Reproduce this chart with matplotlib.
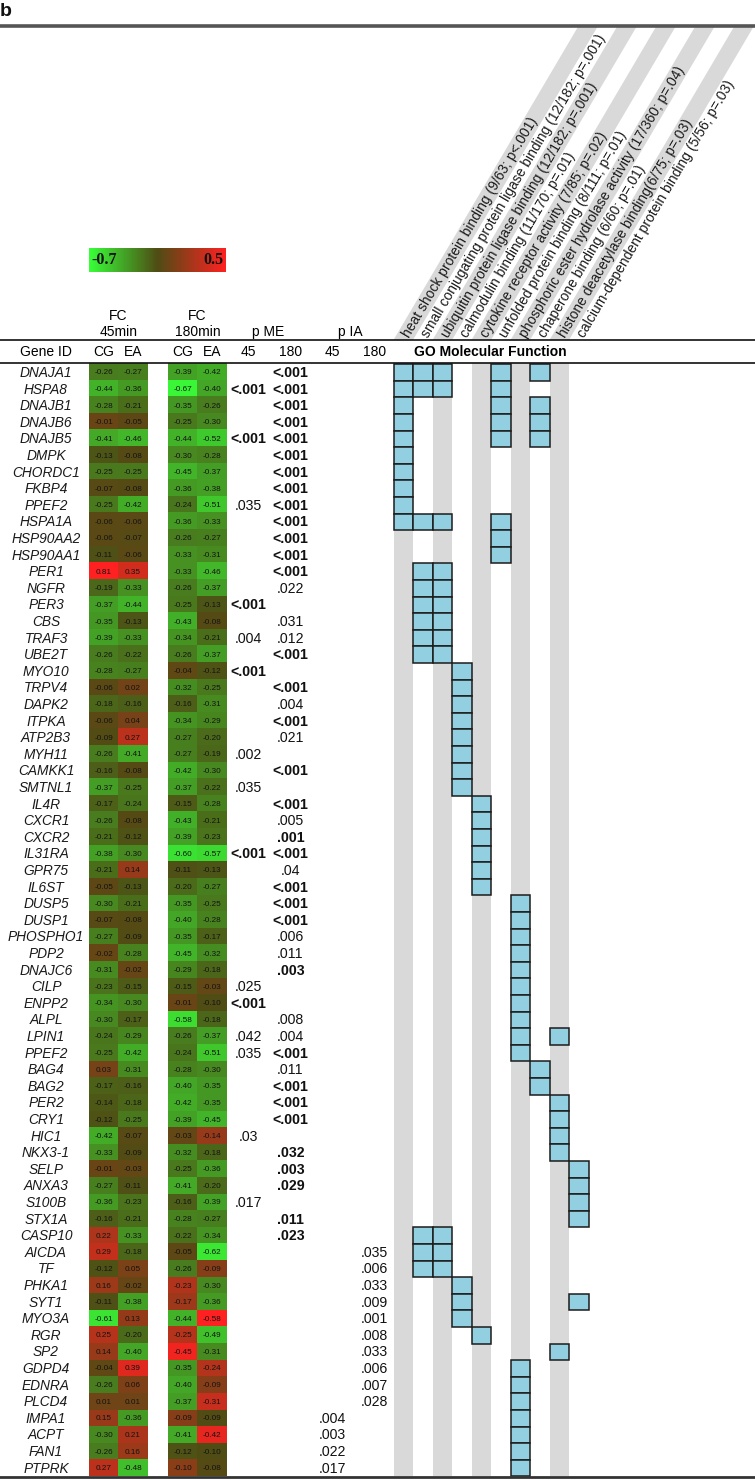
import numpy as np
import matplotlib
matplotlib.use("Agg")
import matplotlib.pyplot as plt
from matplotlib.colors import LinearSegmentedColormap
from matplotlib.patches import Rectangle, Polygon

# ---------------- data ----------------
genes = ["DNAJA1", "HSPA8", "DNAJB1", "DNAJB6", "DNAJB5", "DMPK", "CHORDC1", "FKBP4",
         "PPEF2", "HSPA1A", "HSP90AA2", "HSP90AA1", "PER1", "NGFR", "PER3", "CBS",
         "TRAF3", "UBE2T", "MYO10", "TRPV4", "DAPK2", "ITPKA", "ATP2B3", "MYH11",
         "CAMKK1", "SMTNL1", "IL4R", "CXCR1", "CXCR2", "IL31RA", "GPR75", "IL6ST",
         "DUSP5", "DUSP1", "PHOSPHO1", "PDP2", "DNAJC6", "CILP", "ENPP2", "ALPL",
         "LPIN1", "PPEF2", "BAG4", "BAG2", "PER2", "CRY1", "HIC1", "NKX3-1", "SELP",
         "ANXA3", "S100B", "STX1A", "CASP10", "AICDA", "TF", "PHKA1", "SYT1", "MYO3A",
         "RGR", "SP2", "GDPD4", "EDNRA", "PLCD4", "IMPA1", "ACPT", "FAN1", "PTPRK"]

fc_cg_45 = [-0.26, -0.44, -0.28, -0.01, -0.41, -0.13, -0.25, -0.07, -0.25, -0.06, -0.06, -0.11,
            0.81, -0.19, -0.37, -0.35, -0.39, -0.26, -0.28, -0.06, -0.18, -0.06, -0.09, -0.26,
            -0.16, -0.37, -0.17, -0.26, -0.21, -0.38, -0.21, -0.05, -0.30, -0.07, -0.27, -0.02,
            -0.31, -0.23, -0.34, -0.30, -0.24, -0.25, 0.03, -0.17, -0.14, -0.12, -0.42, -0.33,
            -0.01, -0.27, -0.36, -0.16, 0.22, 0.29, -0.12, 0.16, -0.11, -0.61, 0.25, 0.14,
            -0.04, -0.26, 0.01, 0.15, -0.30, -0.26, 0.27]
fc_ea_45 = [-0.27, -0.36, -0.21, -0.05, -0.46, -0.08, -0.25, -0.08, -0.42, -0.06, -0.07, -0.06,
            0.35, -0.33, -0.44, -0.13, -0.33, -0.22, -0.27, 0.02, -0.16, 0.04, 0.27, -0.41,
            -0.08, -0.25, -0.24, -0.08, -0.12, -0.30, 0.14, -0.13, -0.21, -0.08, -0.09, -0.28,
            -0.02, -0.15, -0.30, -0.17, -0.29, -0.42, -0.31, -0.16, -0.18, -0.25, -0.07, -0.09,
            -0.03, -0.11, -0.23, -0.21, -0.33, -0.18, 0.05, -0.02, -0.38, 0.13, -0.20, -0.40,
            0.39, 0.06, 0.01, -0.36, 0.21, 0.16, -0.48]
fc_cg_180 = [-0.39, -0.67, -0.35, -0.25, -0.44, -0.30, -0.45, -0.36, -0.24, -0.36, -0.26, -0.33,
             -0.33, -0.26, -0.25, -0.43, -0.34, -0.26, -0.04, -0.32, -0.16, -0.34, -0.27, -0.27,
             -0.42, -0.37, -0.15, -0.43, -0.39, -0.60, -0.11, -0.20, -0.35, -0.40, -0.35, -0.45,
             -0.29, -0.15, -0.01, -0.58, -0.26, -0.24, -0.28, -0.40, -0.42, -0.39, -0.03, -0.32,
             -0.25, -0.41, -0.16, -0.28, -0.22, -0.05, -0.26, -0.23, -0.17, -0.44, -0.25, -0.45,
             -0.35, -0.40, -0.37, -0.09, -0.41, -0.12, -0.10]
fc_ea_180 = [-0.42, -0.40, -0.26, -0.30, -0.52, -0.28, -0.37, -0.38, -0.51, -0.33, -0.27, -0.31,
             -0.46, -0.37, -0.13, -0.08, -0.21, -0.37, -0.12, -0.25, -0.31, -0.29, -0.20, -0.19,
             -0.30, -0.22, -0.28, -0.21, -0.23, -0.57, -0.13, -0.27, -0.25, -0.28, -0.17, -0.32,
             -0.18, -0.03, -0.10, -0.18, -0.37, -0.51, -0.30, -0.35, -0.35, -0.45, -0.14, -0.18,
             -0.36, -0.20, -0.39, -0.27, -0.34, -0.62, -0.09, -0.30, -0.36, -0.58, -0.49, -0.31,
             -0.24, -0.09, -0.31, -0.09, -0.42, -0.10, -0.08]

# cells (row, column) whose colour in the figure follows the opposite sign of the printed value
colour_flipped = [(46, 3), (54, 3), (55, 2), (56, 2), (57, 3), (58, 2), (59, 2), (60, 3),
                  (61, 3), (62, 3), (63, 2), (64, 3), (66, 2)]

# p-values: row -> (text, bold)
p_me_45 = {1: ("<.001", True), 4: ("<.001", True), 8: (".035", False), 14: ("<.001", True),
           16: (".004", False), 18: ("<.001", True), 23: (".002", False), 25: (".035", False),
           29: ("<.001", True), 37: (".025", False), 38: ("<.001", True), 40: (".042", False),
           41: (".035", False), 46: (".03", False), 50: (".017", False)}
p_me_180 = {0: ("<.001", True), 1: ("<.001", True), 2: ("<.001", True), 3: ("<.001", True),
            4: ("<.001", True), 5: ("<.001", True), 6: ("<.001", True), 7: ("<.001", True),
            8: ("<.001", True), 9: ("<.001", True), 10: ("<.001", True), 11: ("<.001", True),
            12: ("<.001", True), 13: (".022", False), 15: (".031", False), 16: (".012", False),
            17: ("<.001", True), 19: ("<.001", True), 20: (".004", False), 21: ("<.001", True),
            22: (".021", False), 24: ("<.001", True), 26: ("<.001", True), 27: (".005", False),
            28: (".001", True), 29: ("<.001", True), 30: (".04", False), 31: ("<.001", True),
            32: ("<.001", True), 33: ("<.001", True), 34: (".006", False), 35: (".011", False),
            36: (".003", True), 39: (".008", False), 40: (".004", False), 41: ("<.001", True),
            42: (".011", False), 43: ("<.001", True), 44: ("<.001", True), 45: ("<.001", True),
            47: (".032", True), 48: (".003", True), 49: (".029", True), 51: (".011", True),
            52: (".023", True)}
p_ia_45 = {63: (".004", False), 64: (".003", False), 65: (".022", False), 66: (".017", False)}
p_ia_180 = {53: (".035", False), 54: (".006", False), 55: (".033", False), 56: (".009", False),
            57: (".001", False), 58: (".008", False), 59: (".033", False), 60: (".006", False),
            61: (".007", False), 62: (".028", False)}

go_terms = ["heat shock protein binding (9/63; p<.001)",
            "small conjugating protein ligase binding (12/182; p=.001)",
            "ubiquitin protein ligase binding (12/182; p=.001)",
            "calmodulin binding (11/170; p=.01)",
            "cytokine receptor activity (7/85; p=.02)",
            "unfolded protein binding (8/111; p=.01)",
            "phosphoric ester hydrolase activity (17/360; p=.04)",
            "chaperone binding (6/60; p=.01)",
            "histone deacetylase binding(6/75; p=.03)",
            "calcium-dependent protein binding (5/56; p=.03)"]
go_members = [
    [0, 1, 2, 3, 4, 5, 6, 7, 8, 9],
    [0, 1, 9, 12, 13, 14, 15, 16, 17, 52, 53, 54],
    [0, 1, 9, 12, 13, 14, 15, 16, 17, 52, 53, 54],
    [18, 19, 20, 21, 22, 23, 24, 25, 55, 56, 57],
    [26, 27, 28, 29, 30, 31, 58],
    [0, 1, 2, 3, 4, 9, 10, 11],
    [32, 33, 34, 35, 36, 37, 38, 39, 40, 41, 60, 61, 62, 63, 64, 65, 66],
    [0, 2, 3, 4, 42, 43],
    [40, 44, 45, 46, 47, 59],
    [48, 49, 50, 51, 56],
]

colorbar_range = (-0.7, 0.5)

# ---------------- layout ----------------
W, H = 755, 1480
fig = plt.figure(figsize=(W / 100, H / 100), dpi=100)
ax = fig.add_axes([0, 0, 1, 1])
ax.set_xlim(0, W)
ax.set_ylim(H, 0)
ax.axis("off")

SANS = ["Liberation Sans", "DejaVu Sans"]
SERIF = ["Liberation Serif", "DejaVu Serif"]

n = len(genes)
row_top = 364.2
row_h = 16.6
row_c = lambda i: row_top + (i + 0.5) * row_h
bottom = row_top + n * row_h

cmap = LinearSegmentedColormap.from_list(
    "gbr", [(0.0, (0.22, 1.00, 0.22)), (0.5, (0.31, 0.30, 0.08)), (1.0, (1.00, 0.13, 0.13))])
vmin, vmax = colorbar_range

# heatmap values
fc = np.array([fc_cg_45, fc_ea_45, fc_cg_180, fc_ea_180]).T
colour_vals = fc.copy()
for r, c in colour_flipped:
    colour_vals[r, c] = -colour_vals[r, c]

cell_w = 29.3
block_left = [89.0, 168.3]
for b in range(2):
    x0 = block_left[b]
    ax.imshow(colour_vals[:, 2 * b:2 * b + 2], cmap=cmap, vmin=vmin, vmax=vmax,
              extent=(x0, x0 + 2 * cell_w, bottom, row_top), aspect="auto",
              interpolation="nearest", zorder=2)
    for i in range(n):
        for j in range(2):
            v = fc[i, 2 * b + j]
            ax.text(x0 + (j + 0.5) * cell_w, row_c(i) + 0.5, f"{v:.2f}", ha="center",
                    va="center", fontsize=5.9, color="#141414", family=SANS, zorder=3)

# gene names
for i, g in enumerate(genes):
    ax.text(46, row_c(i) + 0.5, g, ha="center", va="center", fontsize=9.9,
            style="italic", family=SANS, color="#1a1a1a")

# p-values
p_cols = [(p_me_45, 248.5), (p_me_180, 290.5), (p_ia_45, 332.5), (p_ia_180, 374.5)]
for d, xc in p_cols:
    for i, (txt, bold) in d.items():
        ax.text(xc, row_c(i) + 0.5, txt, ha="center", va="center", fontsize=10.2,
                fontweight="bold" if bold else "normal", family=SANS, color="#111111")

# GO stripes and boxes
go_x0 = 393.5
go_w = 19.5
head_top_line = 340.0
head_bot_line = 363.0
top_line = 25.5
ang = np.deg2rad(59.5)
dxs = (head_top_line - top_line - 1.5) / np.tan(ang)
for k in range(len(go_terms)):
    xl = go_x0 + k * go_w
    if k % 2 == 0:
        ax.add_patch(Rectangle((xl, head_bot_line), go_w, bottom - head_bot_line,
                               facecolor="#d9d9d9", edgecolor="none", zorder=1))
        ax.add_patch(Polygon([(xl, head_top_line), (xl + go_w, head_top_line),
                              (xl + go_w + dxs, top_line + 1.5), (xl + dxs, top_line + 1.5)],
                             closed=True, facecolor="#d9d9d9", edgecolor="none", zorder=1))
    for i in go_members[k]:
        ax.add_patch(Rectangle((xl, row_top + i * row_h), go_w, row_h,
                               facecolor="#92cfe0", edgecolor="#1c1c1c", lw=1.1, zorder=3))
    # rotated label
    ya = head_top_line - 4
    xa = xl + go_w / 2 + (head_top_line - ya) / np.tan(ang)
    ax.text(xa, ya, go_terms[k], rotation=59.5, rotation_mode="anchor", ha="left",
            va="center", fontsize=10.0, family=SANS, color="#1a1a1a", zorder=4)

# lines
ax.plot([0, W], [top_line, top_line], color="#555555", lw=2.6, solid_capstyle="butt", zorder=5)
ax.plot([0, W], [head_top_line, head_top_line], color="#111111", lw=1.2, zorder=5)
ax.plot([0, W], [head_bot_line, head_bot_line], color="#111111", lw=1.2, zorder=5)
ax.plot([0, W], [bottom + 0.5, bottom + 0.5], color="#333333", lw=2.0, zorder=5)

# panel letter
ax.text(0, 12, "b", ha="left", va="center", fontsize=14, fontweight="bold",
        family=SANS, color="#111111")

# colorbar
grad = np.linspace(vmin, vmax, 256)[None, :]
ax.imshow(grad, cmap=cmap, vmin=vmin, vmax=vmax, extent=(88.5, 225.5, 272, 248),
          aspect="auto", interpolation="bilinear", zorder=2)
ax.text(91, 260, f"{vmin:.1f}", ha="left", va="center", fontsize=11.5, fontweight="bold",
        family=SERIF, color="#111111", zorder=3)
ax.text(223, 260, f"{vmax:.1f}", ha="right", va="center", fontsize=11.5, fontweight="bold",
        family=SERIF, color="#111111", zorder=3)

# header texts
hdr_y = 352
hs = 10.0
ax.text(46, hdr_y, "Gene ID", ha="center", va="center", fontsize=hs, family=SANS)
for b in range(2):
    x0 = block_left[b]
    ax.text(x0 + 0.5 * cell_w, hdr_y, "CG", ha="center", va="center", fontsize=hs, family=SANS)
    ax.text(x0 + 1.5 * cell_w, hdr_y, "EA", ha="center", va="center", fontsize=hs, family=SANS)
for lbl, xc in zip(["45", "180", "45", "180"], [248.5, 290.5, 332.5, 374.5]):
    ax.text(xc, hdr_y, lbl, ha="center", va="center", fontsize=hs, family=SANS)
ax.text(414, hdr_y, "GO Molecular Function", ha="left", va="center", fontsize=hs,
        fontweight="bold", family=SANS)
ax.text(block_left[0] + cell_w, 316, "FC", ha="center", va="center", fontsize=hs, family=SANS)
ax.text(block_left[0] + cell_w, 332, "45min", ha="center", va="center", fontsize=hs, family=SANS)
ax.text(block_left[1] + cell_w, 316, "FC", ha="center", va="center", fontsize=hs, family=SANS)
ax.text(block_left[1] + cell_w, 332, "180min", ha="center", va="center", fontsize=hs, family=SANS)
ax.text(268, 332, "p ME", ha="center", va="center", fontsize=hs, family=SANS)
ax.text(350, 332, "p IA", ha="center", va="center", fontsize=hs, family=SANS)

ax.set_xlim(0, W)
ax.set_ylim(H, 0)
fig.savefig("out.png", dpi=100)
